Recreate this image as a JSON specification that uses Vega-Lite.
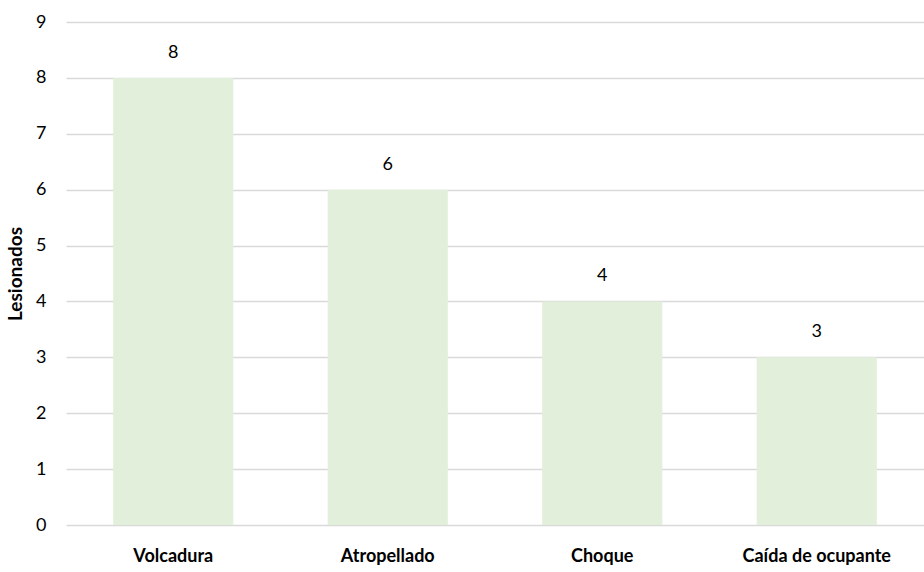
{
  "$schema": "https://vega.github.io/schema/vega-lite/v6.json",
  "autosize": {"type": "none"},
  "padding": {"left": 66, "top": 22, "right": 0, "bottom": 47},
  "width": 858,
  "height": 503,
  "background": "white",
  "config": {"view": {"stroke": null}, "font": "Lato"},
  "data": {"values": [
    {"tipo": "Volcadura", "lesionados": 8},
    {"tipo": "Atropellado", "lesionados": 6},
    {"tipo": "Choque", "lesionados": 4},
    {"tipo": "Caída de ocupante", "lesionados": 3}
  ]},
  "encoding": {
    "x": {"field": "tipo", "type": "nominal", "sort": null,
      "scale": {"paddingInner": 0.44, "paddingOuter": 0.22},
      "axis": {"title": null, "labelAngle": 0, "labelFontSize": 18, "labelFontWeight": "bold", "labelColor": "#000000", "labelPadding": 22, "ticks": false, "domain": false}},
    "y": {"field": "lesionados", "type": "quantitative",
      "scale": {"domain": [0, 9], "nice": false},
      "axis": {"title": "Lesionados", "titleFontSize": 19, "titleFontWeight": "bold", "titleColor": "#000000", "titlePadding": 10,
        "values": [0,1,2,3,4,5,6,7,8,9], "labelFontSize": 18, "labelColor": "#000000", "labelPadding": 20,
        "ticks": false, "domain": false, "gridColor": "#d9d9d9", "gridWidth": 1.5}}
  },
  "layer": [
    {"mark": {"type": "bar", "color": "#E2EFDA"}},
    {"mark": {"type": "text", "baseline": "bottom", "dy": -16, "fontSize": 18, "color": "#000000"},
     "encoding": {"text": {"field": "lesionados", "type": "quantitative"}}}
  ]
}
